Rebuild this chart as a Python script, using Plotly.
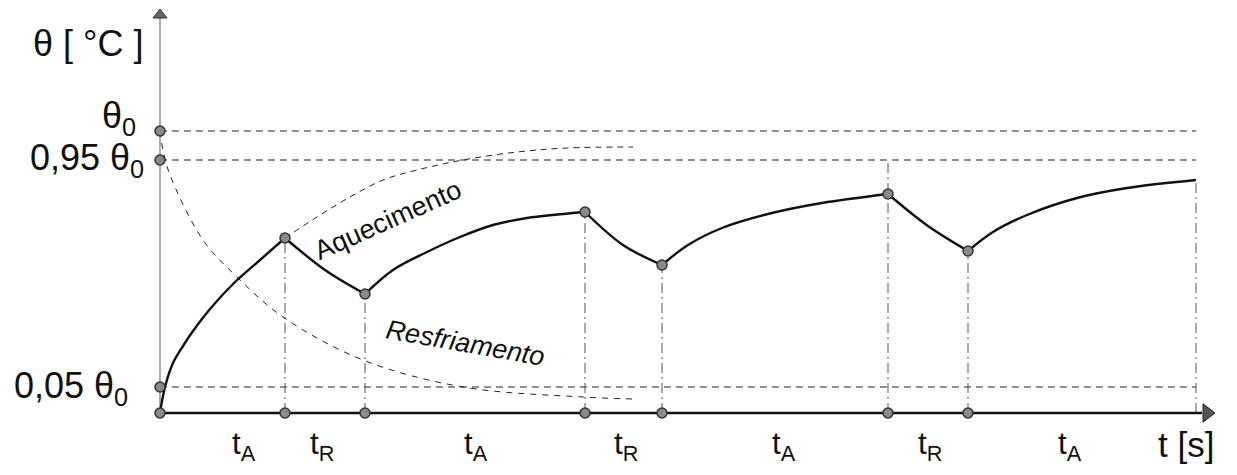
import plotly.graph_objects as go

# ---------------- data (schematic units) ----------------
# temperature levels (theta0, 0.95 theta0, 0.05 theta0)
level_labels = ["θ<sub>0</sub>", "0,95 θ<sub>0</sub>", "0,05 θ<sub>0</sub>"]
level_values = [282, 253, 26]

# switching instants and the temperature reached at each one
switch_times = [0, 125, 205, 425, 502, 728, 808, 1036]
switch_theta = [0, 175, 119, 201, 148, 219, 162, 233]
phase_labels = ["A", "R", "A", "R", "A", "R", "A"]

# actual temperature curve, segment by segment
heat1_t = [0, 5, 13, 23, 33, 50, 73, 100, 125]
heat1_y = [0, 26, 50, 67, 82, 104, 129, 153, 175]
cool1_t = [125, 165, 205]
cool1_y = [175, 143, 119]
heat2_t = [205, 233, 267, 300, 333, 367, 425]
heat2_y = [119, 143, 161, 176, 188, 195, 201]
cool2_t = [425, 463, 502]
cool2_y = [201, 168, 148]
heat3_t = [502, 528, 562, 612, 662, 728]
heat3_y = [148, 168, 185, 200, 210, 219]
cool3_t = [728, 768, 808]
cool3_y = [219, 187, 162]
heat4_t = [808, 833, 867, 917, 967, 1036]
heat4_y = [162, 181, 198, 215, 225, 233]

# reference curves (dashed): continuous heating and continuous cooling
aquec_t = [125, 157, 190, 223, 257, 303, 357, 407, 473]
aquec_y = [175, 196, 216, 233, 243, 253, 261, 265, 266]
resfr_t = [0, 3, 10, 43, 77, 123, 203, 303, 423, 473]
resfr_y = [282, 263, 238, 173, 136, 96, 53, 26, 16, 14]

# ---------------- figure ----------------
FONT = "Liberation Sans, Arial, sans-serif"
INK = "#111111"
fig = go.Figure()

t_end = switch_times[-1]

# horizontal reference levels
hx, hy = [], []
for v in level_values:
    hx += [0, t_end, None]
    hy += [v, v, None]
fig.add_trace(go.Scatter(x=hx, y=hy, mode="lines",
                         line=dict(color="#222222", width=1, dash="7px,5px"),
                         hoverinfo="skip"))

# vertical dash-dot guides
vx, vy = [], []
for i in range(1, len(switch_times)):
    top = switch_theta[i]
    if i == 5:
        top = level_values[1]
    vx += [switch_times[i], switch_times[i], None]
    vy += [0, top, None]
fig.add_trace(go.Scatter(x=vx, y=vy, mode="lines",
                         line=dict(color="#555555", width=1, dash="10px,4px,2px,4px"),
                         hoverinfo="skip"))

# dashed reference curves
fig.add_trace(go.Scatter(x=aquec_t, y=aquec_y, mode="lines", line_shape="spline",
                         line=dict(color="#222222", width=1, dash="6px,5px"),
                         hoverinfo="skip"))
fig.add_trace(go.Scatter(x=resfr_t, y=resfr_y, mode="lines", line_shape="spline",
                         line=dict(color="#222222", width=1, dash="6px,6px"),
                         hoverinfo="skip"))

# axes (drawn as lines)
fig.add_trace(go.Scatter(x=[0, 0], y=[0, 395], mode="lines",
                         line=dict(color="#777777", width=1.2), hoverinfo="skip"))
fig.add_trace(go.Scatter(x=[0, 1042], y=[0, 0], mode="lines",
                         line=dict(color=INK, width=2.6), hoverinfo="skip"))
fig.add_trace(go.Scatter(x=[0], y=[398], mode="markers",
                         marker=dict(symbol="triangle-up", size=12, color="#666666",
                                     line=dict(color="#333333", width=1)),
                         hoverinfo="skip"))
fig.add_trace(go.Scatter(x=[1047], y=[0], mode="markers",
                         marker=dict(symbol="triangle-right", size=16, color="#555555",
                                     line=dict(color="#222222", width=1)),
                         hoverinfo="skip"))

# main temperature curve
for tt, yy in [(heat1_t, heat1_y), (cool1_t, cool1_y), (heat2_t, heat2_y),
               (cool2_t, cool2_y), (heat3_t, heat3_y), (cool3_t, cool3_y),
               (heat4_t, heat4_y)]:
    fig.add_trace(go.Scatter(x=tt, y=yy, mode="lines", line_shape="spline",
                             line=dict(color=INK, width=2.4), hoverinfo="skip"))

# dots
dot = dict(symbol="circle", size=10, color="#8a8a8a", line=dict(color="#333333", width=1.5))
dx = switch_times[:-1] + switch_times[1:-1] + [0] * len(level_values)
dy = [0] * (len(switch_times) - 1) + switch_theta[1:-1] + level_values
fig.add_trace(go.Scatter(x=dx, y=dy, mode="markers", marker=dot, hoverinfo="skip"))

# ---------------- text ----------------
ann = []
ann.append(dict(x=-15, y=370, text="θ [ °C ]", xanchor="right", yanchor="middle",
                font=dict(size=36, family=FONT, color=INK)))
lab_pos = [(-22, 295), (-14, 253), (-30, 25)]
for (lx, ly), txt in zip(lab_pos, level_labels):
    ann.append(dict(x=lx, y=ly, text=txt, xanchor="right", yanchor="middle",
                    font=dict(size=36, family=FONT, color=INK)))

t_label_x = [84, 162, 316, 466, 624, 770, 910]
for lx, p in zip(t_label_x, phase_labels):
    ann.append(dict(x=lx, y=-33, text=f"t<sub>{p}</sub>", xanchor="center",
                    yanchor="middle", font=dict(size=31, family=FONT, color=INK)))
ann.append(dict(x=1026, y=-31, text="t [s]", xanchor="center", yanchor="middle",
                font=dict(size=35, family=FONT, color=INK)))

ann.append(dict(x=228, y=193, text="Aquecimento", textangle=-24, xanchor="center",
                yanchor="middle", font=dict(size=27, family=FONT, color=INK)))
ann.append(dict(x=305, y=70, text="<i>Resfriamento</i>", textangle=10, xanchor="center",
                yanchor="middle", font=dict(size=27, family=FONT, color=INK)))

for a in ann:
    a.update(xref="x", yref="y", showarrow=False)

# the page adds an 8px body margin: shrink the figure and offset the ranges
fig.update_layout(
    width=1221, height=459, autosize=False,
    margin=dict(l=0, r=0, t=0, b=0, pad=0),
    paper_bgcolor="white", plot_bgcolor="white",
    showlegend=False,
    xaxis=dict(range=[-152, 1069], visible=False, fixedrange=True),
    yaxis=dict(range=[-54, 405], visible=False, fixedrange=True),
    annotations=ann,
)

fig.write_html("out.html")
